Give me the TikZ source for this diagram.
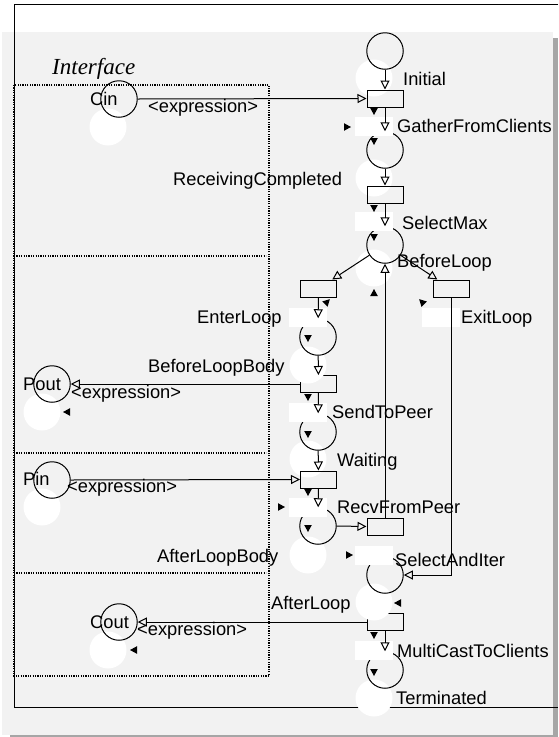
\documentclass[tikz,border=0pt]{standalone}
\usepackage{fontspec}
\setmainfont{Liberation Sans}
\newfontfamily\ifacefont{Liberation Serif}
\usetikzlibrary{arrows.meta}
\definecolor{bggray}{HTML}{F2F2F2}
\definecolor{shadowgray}{HTML}{A6A6A6}
\newcommand\tokmark[3]{\fill[shift={(#1,#2)},rotate=#3] (4pt,0pt) -- (-3pt,3.8pt) -- (-3pt,-3.8pt) -- cycle;}
\begin{document}
\begin{tikzpicture}[x=1pt,y=-1pt,
  place/.style={circle,draw,line width=1pt,minimum size=36.5pt,inner sep=0pt},
  trans/.style={rectangle,draw,line width=1pt,minimum width=36pt,minimum height=17pt,inner sep=0pt},
  arc/.style={line width=1pt,-{Triangle[open,length=9pt,width=9pt]}},
  ghost/.style={fill=white},
  lbl/.style={inner sep=0pt,anchor=base west,font=\fontsize{18.3pt}{20pt}\selectfont},
  dots/.style={line width=1.4pt,dash pattern=on 1.2pt off 1.2pt}]
\useasboundingbox (0,0) rectangle (558,737);
% backgrounds
\fill[white] (0,0) rectangle (558,737);
\fill[shadowgray] (553,38) rectangle (558,737);
\fill[shadowgray] (10,734.5) rectangle (558,737);
\fill[bggray] (2,32) rectangle (553,734.5);
% frame
\draw[line width=1pt] (558,4) -- (14,4) -- (14,707) -- (558,707);
% interface box
\draw[dots] (14,85) rectangle (269,676);
\draw[dots,line width=1.1pt] (14,256) -- (266,256);
\draw[dots,line width=1.1pt] (14,453) -- (266,453);
\draw[dots,line width=1.1pt] (14,573) -- (266,573);
% transitions hidden partly by ghosts
\node[trans] (tBLB) at (318.5,384) {};
\node[trans] (tAL) at (385,622) {};
% ghost circles
\foreach \gx/\gy in {374/78,374/178,374/268,308/365,308/459,308/555,374/602,374/698,108/127,42/412,42/507,108/650}
  \fill[ghost] (\gx,\gy) circle[radius=18.5];
% places
\node[place] (pInit) at (385,51) {};
\node[place] (pGather) at (385,150) {};
\node[place] (pSel) at (385,245) {};
\node[place] (pLoop) at (318,337) {};
\node[place] (pSend) at (318,432) {};
\node[place] (pRecv) at (318,526) {};
\node[place] (pSAI) at (385,575) {};
\node[place] (pTerm) at (385,670) {};
\node[place] (cin) at (119,99) {};
\node[place] (pout) at (52,384) {};
\node[place] (pin) at (52,480) {};
\node[place] (cout) at (119,622) {};
% transitions
\node[trans] (tInit) at (385,98.5) {};
\node[trans] (tRecv) at (385,194.5) {};
\node[trans] (tEnter) at (318.5,288.5) {};
\node[trans] (tExit) at (451,288.5) {};
\node[trans] (tWait) at (318.5,479.5) {};
\node[trans] (tRFP) at (385,526.5) {};
% ghost rectangles
\foreach \rx/\ry in {355/117,355/212,289/308,422/308,289/403,289/498,355/546,355/641}
  \fill[ghost] (\rx,\ry) rectangle ++(38,18.5);
% arcs
\draw[arc] (pInit) -- (tInit);
\draw[arc] (cin.east) -- (tInit.west);
\draw[arc] (tInit) -- (pGather);
\draw[arc] (pGather) -- (tRecv);
\draw[arc] (tRecv) -- (pSel);
\draw[arc] (pSel) -- (tEnter);
\draw[arc] (pSel) -- (tExit);
\draw[arc] (tRFP.north) -- (pSel.south);
\draw[arc] (tEnter) -- (pLoop);
\draw[arc] (pLoop) -- (tBLB);
\draw[arc] (tBLB.west) -- (pout.east);
\draw[arc] (tBLB) -- (pSend);
\draw[arc] (pSend) -- (tWait);
\draw[arc] (pin.east) -- (tWait.west);
\draw[arc] (tWait) -- (pRecv);
\draw[arc] (pRecv.east) -- (tRFP.west);
\draw[arc] (tExit.south) |- (pSAI.east);
\draw[arc] (tAL.west) -- (cout.east);
\draw[arc] (tAL) -- (pTerm);
% token marks
\tokmark{374}{111}{-90}
\tokmark{347}{127}{0}
\tokmark{374}{141}{-90}
\tokmark{374}{208}{-90}
\tokmark{374}{237}{-90}
\tokmark{374}{293}{90}
\tokmark{327}{302}{45}
\tokmark{422}{302}{135}
\tokmark{308}{338}{-90}
\tokmark{308}{397}{-90}
\tokmark{308}{434}{-90}
\tokmark{308}{492}{-90}
\tokmark{281}{507}{0}
\tokmark{308}{528}{-90}
\tokmark{349}{555}{0}
\tokmark{398}{603}{180}
\tokmark{374}{635}{-90}
\tokmark{374}{672}{-90}
\tokmark{67}{412}{180}
\tokmark{134}{650}{180}
% labels
\node[lbl] (lInitial) at (403,85) {Initial};
\node[lbl] (lGather) at (397,132) {GatherFromClients};
\node[lbl] (lRecvC) at (173,185) {ReceivingCompleted};
\node[lbl] (lSelMax) at (402,229) {SelectMax};
\node[lbl] (lBefore) at (397,267) {BeforeLoop};
\node[lbl] (lEnter) at (197,323) {EnterLoop};
\node[lbl] (lExit) at (461,323) {ExitLoop};
\node[lbl] (lBLB) at (148,372) {BeforeLoopBody};
\node[lbl] (lSend) at (332,418) {SendToPeer};
\node[lbl] (lWait) at (337,466) {Waiting};
\node[lbl] (lRFP) at (337,513) {RecvFromPeer};
\node[lbl] (lALB) at (157,562) {AfterLoopBody};
\node[lbl] (lSAI) at (395,566) {SelectAndIter};
\node[lbl] (lAL) at (271,609) {AfterLoop};
\node[lbl] (lMulti) at (397,657) {MultiCastToClients};
\node[lbl] (lTerm) at (396,704) {Terminated};
\node[lbl] (lCin) at (90,105) {Cin};
\node[lbl] (eCin) at (148,112) {<expression>};
\node[lbl] (lPout) at (23,390) {Pout};
\node[lbl] (ePout) at (71,398) {<expression>};
\node[lbl] (lPin) at (23,485) {Pin};
\node[lbl] (ePin) at (67,492) {<expression>};
\node[lbl] (lCout) at (90,628) {Cout};
\node[lbl] (eCout) at (137,635) {<expression>};
\node[inner sep=0pt,anchor=base west,font=\ifacefont\itshape\fontsize{23pt}{25pt}\selectfont] (lIface) at (52,74) {Interface};
\end{tikzpicture}
\end{document}
